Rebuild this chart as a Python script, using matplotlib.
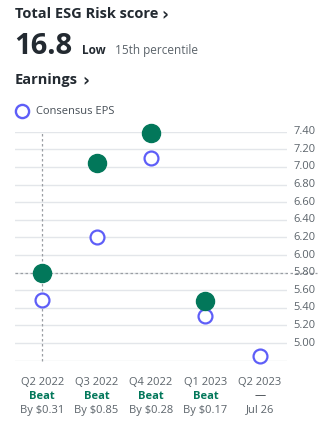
import matplotlib.pyplot as plt
import numpy as np

# earnings data
quarters = ['Q2 2022', 'Q3 2022', 'Q4 2022', 'Q1 2023', 'Q2 2023']
eps_actual = [5.80, 7.05, 7.38, 5.48, None]
eps_estimate = [5.49, 6.20, 7.10, 5.31, 4.85]
result = ['Beat', 'Beat', 'Beat', 'Beat', '—']
detail = ['By $0.31', 'By $0.85', 'By $0.28', 'By $0.17', 'Jul 26']
grid_levels = np.round(np.arange(4.8, 7.41, 0.2), 2)
tick_levels = grid_levels[1:]

GREEN = '#02775a'
BLUE = '#5e5ef8'
DARK = '#232a31'
GREY = '#5b636a'

W, H = 327, 423
plt.rcParams['font.family'] = ['Open Sans', 'DejaVu Sans']

fig = plt.figure(figsize=(W / 100, H / 100), dpi=100)
fig.patch.set_facecolor('white')

def px(x, y):
    return x / W, 1 - y / H

# header text
fig.text(*px(15, 14), 'Total ESG Risk score', fontsize=10.5, fontweight='bold',
         color=DARK, va='center', ha='left')
fig.text(*px(161, 15), '›', fontsize=12, fontweight='bold', color=DARK,
         va='center', ha='left', family='DejaVu Sans')
fig.text(*px(14, 54), '16.8', fontsize=21, fontweight='bold', color=DARK,
         va='baseline', ha='left')
fig.text(*px(82, 54), 'Low', fontsize=8.5, fontweight='bold', color=DARK,
         va='baseline', ha='left')
fig.text(*px(115, 54), '15th percentile', fontsize=8.5, color=GREY,
         va='baseline', ha='left')
fig.text(*px(15, 80), 'Earnings', fontsize=10.5, fontweight='bold',
         color=DARK, va='center', ha='left')
fig.text(*px(82, 81), '›', fontsize=12, fontweight='bold', color=DARK,
         va='center', ha='left', family='DejaVu Sans')

# legend
fig.lines.append(plt.Line2D([22 / W], [1 - 111 / H], marker='o', markersize=9.5,
                            markerfacecolor='white', markeredgecolor=BLUE,
                            markeredgewidth=1.7, transform=fig.transFigure))
fig.text(*px(36, 111), 'Consensus EPS', fontsize=8, color='#464e56',
         va='center', ha='left')

# plot area
ax = fig.add_axes([15 / W, 1 - 360.7 / H, 272 / W, (360.7 - 131.7) / H])
ax.set_xlim(-0.5, 4.5)
ax.set_ylim(4.8, 7.4)
ax.axis('off')

for lv in grid_levels:
    ax.axhline(lv, color='#e3e6ea', lw=1, zorder=0)
for lv in tick_levels:
    ax.text(1.025, lv, f'{lv:.2f}', transform=ax.get_yaxis_transform(),
            fontsize=8, color=GREY, va='center', ha='left')

# crosshair on the first quarter
ax.plot([0, 0], [4.8, 7.4], ls=(0, (2, 2)), color='#9a9ea3', lw=0.9,
        zorder=1, clip_on=False)
ax.plot([0, 1.11], [eps_actual[0], eps_actual[0]], ls=(0, (2, 2)),
        color='#9a9ea3', lw=0.9, zorder=1, clip_on=False,
        transform=ax.get_yaxis_transform())

x = np.arange(len(quarters))
ax.plot(x, eps_estimate, ls='none', marker='o', markersize=10,
        markerfacecolor='white', markeredgecolor=BLUE, markeredgewidth=1.6,
        zorder=3, clip_on=False)
xa = [i for i, v in enumerate(eps_actual) if v is not None]
ya = [v for v in eps_actual if v is not None]
ax.plot(xa, ya, ls='none', marker='o', markersize=13, color=GREEN,
        zorder=4, clip_on=False)

# quarter labels below
for i, q in enumerate(quarters):
    xf = (15 + (i + 0.5) * 272 / 5) / W
    fig.text(xf, 1 - 382 / H, q, fontsize=8, color=GREY, ha='center', va='center')
    if result[i] == 'Beat':
        fig.text(xf, 1 - 396 / H, result[i], fontsize=8, fontweight='bold',
                 color=GREEN, ha='center', va='center')
    else:
        fig.text(xf, 1 - 396 / H, result[i], fontsize=8, color=DARK,
                 ha='center', va='center')
    fig.text(xf, 1 - 410 / H, detail[i], fontsize=8, color=GREY,
             ha='center', va='center')

fig.savefig('out.png', dpi=100)
